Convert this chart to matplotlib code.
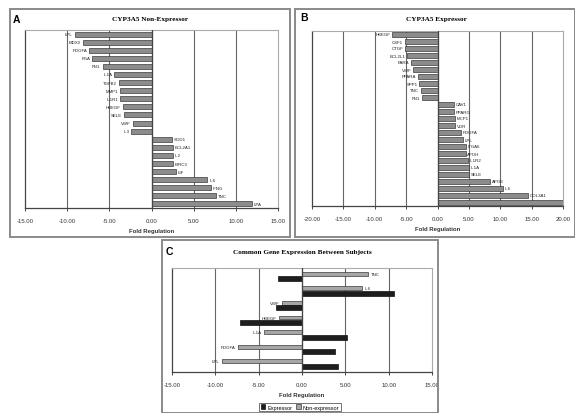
import matplotlib.pyplot as plt
from matplotlib.patches import Rectangle, Patch
import numpy as np

# panel A: CYP3A5 non-expressor, top to bottom
genes_a = ['LPL', 'MDX2', 'PDGFA', 'FGA', 'FN1', 'IL1A', 'TGFB2', 'MMP1', 'IL1R1',
           'HBEGF', 'SELE', 'VWF', 'IL3', 'SOD1', 'BCL2A1', 'IL2', 'BIRC3', 'LIF',
           'IL6', 'IFNG', 'TNC', 'LPA']
fold_a = [-9.1, -8.1, -7.4, -7.0, -5.8, -4.4, -3.9, -3.7, -3.7, -3.4, -3.3, -2.2,
          -2.4, 2.4, 2.5, 2.5, 2.5, 2.9, 6.6, 7.0, 7.6, 11.9]

# panel B: CYP3A5 expressor, top to bottom (last bar runs off the chart, label not shown)
genes_b = ['HBEGF', 'CSF1', 'CTGF', 'BCL2L1', 'PARA', 'VWF', 'PPARA', 'SPP1', 'TNC',
           'FN1', 'CAV1', 'PPARG', 'MCP1', 'VDR', 'PDGFA', 'LPL', 'ITGA6', 'APOH',
           'IL1R2', 'IL1A', 'SELE', 'APOE', 'IL6', 'COL3A1', '']
fold_b = [-7.3, -5.2, -5.2, -4.8, -4.2, -3.9, -3.1, -2.9, -2.7, -2.5, 2.6, 2.6,
          2.8, 2.8, 3.7, 4.0, 4.5, 4.5, 4.8, 5.0, 5.0, 8.4, 10.4, 14.4, 20.5]

# panel C: common genes
genes_c = ['TNC', 'IL6', 'VWF', 'HBEGF', 'IL1A', 'PDGFA', 'LPL']
non_expressor_c = [7.6, 6.9, -2.3, -2.7, -4.4, -7.4, -9.2]
expressor_c = [-2.8, 10.6, -3.0, -7.2, 5.2, 3.8, 4.1]

W, H = 575, 414
fig = plt.figure(figsize=(W / 100, H / 100), dpi=100)
fig.patch.set_facecolor('white')

def fx(px):
    return px / W

def fy(py):
    return 1 - py / H

def frame(x0, y0, x1, y1):
    fig.add_artist(Rectangle((fx(x0), fy(y1)), fx(x1 - x0), (y1 - y0) / H,
                             transform=fig.transFigure, fill=False,
                             ec='#8a8a8a', lw=1.4))

def style(ax, lim, step):
    ax.set_xlim(-lim, lim)
    ticks = np.arange(-lim, lim + 0.1, step)
    ax.set_xticks(ticks)
    ax.set_xticklabels(['%.2f' % t for t in ticks], fontsize=4.3,
                       family='Liberation Sans', color='#333')
    ax.set_yticks([])
    for t in ticks[1:-1]:
        ax.axvline(t, color='#666', lw=0.8, zorder=0)
    ax.axvline(0, color='#444', lw=0.9, zorder=3)
    for s in ['top', 'right']:
        ax.spines[s].set_color('#aaa')
        ax.spines[s].set_linewidth(0.8)
    for s in ['left', 'bottom']:
        ax.spines[s].set_color('#444')
        ax.spines[s].set_linewidth(0.9)
    ax.tick_params(axis='x', length=2, width=0.7, pad=5, color='#444')
    ax.set_xlabel('Fold Regulation', fontsize=4.3, fontweight='bold',
                  family='Liberation Sans', labelpad=4, color='#333')

def hbar_panel(ax, genes, vals, lim, step):
    y = np.arange(len(genes))
    ax.barh(y, vals, height=0.62, color='#8c8c8c', edgecolor='#3a3a3a',
            lw=0.5, zorder=2)
    ax.set_ylim(len(genes) - 0.5, -0.5)
    for yi, g, v in zip(y, genes, vals):
        if not g:
            continue
        if v < 0:
            ax.text(v - 0.25, yi, g, ha='right', va='center', fontsize=3.2,
                    family='Liberation Sans', color='#222')
        else:
            ax.text(v + 0.25, yi, g, ha='left', va='center', fontsize=3.2,
                    family='Liberation Sans', color='#222')
    style(ax, lim, step)

frame(10, 10, 290, 238)
frame(295, 10, 575, 238)
frame(162, 241, 438, 414)

ax1 = fig.add_axes([fx(25), fy(209), fx(278 - 25), (209 - 31) / H])
hbar_panel(ax1, genes_a, fold_a, 15, 5)

ax2 = fig.add_axes([fx(312), fy(207), fx(563 - 312), (207 - 32) / H])
hbar_panel(ax2, genes_b, fold_b, 20, 5)

ax3 = fig.add_axes([fx(172), fy(373), fx(432 - 172), (373 - 269) / H])
yc = np.arange(len(genes_c))
ax3.barh(yc - 0.17, non_expressor_c, height=0.27, color='#a6a6a6',
         edgecolor='#3a3a3a', lw=0.5, zorder=2)
ax3.barh(yc + 0.17, expressor_c, height=0.34, color='#1e1e1e',
         edgecolor='#111', lw=0.5, zorder=2)
ax3.set_ylim(len(genes_c) - 0.45, -0.55)
for yi, g, v in zip(yc, genes_c, non_expressor_c):
    if v < 0:
        ax3.text(v - 0.3, yi - 0.17, g, ha='right', va='center', fontsize=3.2,
                 family='Liberation Sans', color='#222')
    else:
        ax3.text(v + 0.3, yi - 0.17, g, ha='left', va='center', fontsize=3.2,
                 family='Liberation Sans', color='#222')
style(ax3, 15, 5)

# titles and panel letters
fig.text(fx(150), fy(19), 'CYP3A5 Non-Expressor', ha='center', va='center',
         fontsize=5.2, fontweight='bold', family='Liberation Serif')
fig.text(fx(436), fy(19), 'CYP3A5 Expressor', ha='center', va='center',
         fontsize=5.2, fontweight='bold', family='Liberation Serif')
fig.text(fx(302), fy(253), 'Common Gene Expression Between Subjects',
         ha='center', va='center', fontsize=5.2, fontweight='bold',
         family='Liberation Serif')
fig.text(fx(13), fy(20), 'A', ha='left', va='center', fontsize=7.5,
         fontweight='bold', family='Liberation Sans')
fig.text(fx(300), fy(18), 'B', ha='left', va='center', fontsize=7.5,
         fontweight='bold', family='Liberation Sans')
fig.text(fx(166), fy(252), 'C', ha='left', va='center', fontsize=7.5,
         fontweight='bold', family='Liberation Sans')

handles = [Patch(facecolor='#1e1e1e', edgecolor='#111', lw=0.5, label='Expressor'),
           Patch(facecolor='#a6a6a6', edgecolor='#3a3a3a', lw=0.5, label='Non-expressor')]
leg = fig.legend(handles=handles, loc='center', bbox_to_anchor=(fx(300), fy(408)),
                 ncol=2, frameon=True, fancybox=False,
                 handlelength=0.8, handleheight=0.8, handletextpad=0.3,
                 columnspacing=0.8, borderpad=0.3,
                 prop={'family': 'Liberation Sans', 'size': 4.0})
leg.get_frame().set_edgecolor('#333')
leg.get_frame().set_linewidth(0.6)

fig.savefig('out.png', dpi=100)
